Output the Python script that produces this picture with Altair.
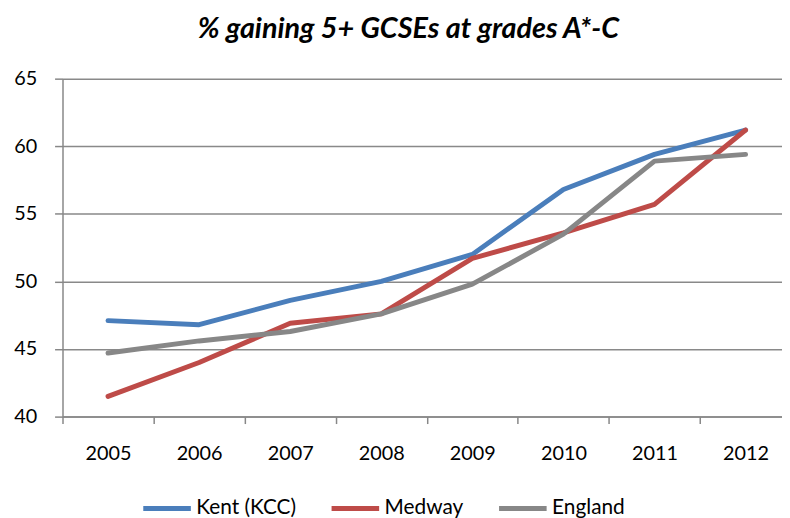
import altair as alt
import pandas as pd

years = [2005, 2006, 2007, 2008, 2009, 2010, 2011, 2012]
series_names = ["Kent (KCC)", "Medway", "England"]
kent = [47.1, 46.8, 48.6, 50.0, 52.0, 56.8, 59.4, 61.2]
medway = [41.5, 44.0, 46.9, 47.6, 51.7, 53.6, 55.7, 61.2]
england = [44.7, 45.6, 46.3, 47.6, 49.8, 53.5, 58.9, 59.4]
colors = ["#4A7EBB", "#BE4B48", "#878787"]

rows = []
for name, vals in zip(series_names, [kent, medway, england]):
    for y, v in zip(years, vals):
        rows.append({"year": y, "value": v, "series": name})
df = pd.DataFrame(rows)

FONT = "Lato"

chart = alt.Chart(df).mark_line(strokeWidth=5, strokeCap="round", strokeJoin="round").encode(
    x=alt.X("year:Q",
            scale=alt.Scale(domain=[2004.5, 2012.4], nice=False, zero=False),
            axis=alt.Axis(values=years, format="d", title=None, grid=False,
                          tickOffset=-46, labelOffset=46, tickSize=7,
                          labelPadding=20, labelFontSize=20, labelFont=FONT,
                          labelColor="black", domainColor="#878787", tickColor="#878787",
                          domainWidth=1.5, tickWidth=1.5)),
    y=alt.Y("value:Q",
            scale=alt.Scale(domain=[40, 65], nice=False, zero=False),
            axis=alt.Axis(values=[40, 45, 50, 55, 60, 65], title=None, grid=True,
                          gridColor="#898989", gridWidth=1.5, tickSize=8,
                          labelPadding=18, labelFontSize=20, labelFont=FONT,
                          labelColor="black", domainColor="#878787", tickColor="#878787",
                          domainWidth=1.5, tickWidth=1.5)),
    color=alt.Color("series:N",
                    scale=alt.Scale(domain=series_names, range=colors),
                    sort=series_names,
                    legend=alt.Legend(title=None, orient="none", legendX=79, legendY=407,
                                      direction="horizontal", symbolType="stroke",
                                      symbolSize=2304, symbolStrokeWidth=5,
                                      labelFontSize=21, labelFont=FONT, labelColor="black",
                                      columnPadding=25, labelOffset=3)),
).properties(
    width=726,
    height=341,
    title=alt.TitleParams("% gaining 5+ GCSEs at grades A*-C", fontSize=29,
                          fontWeight="bold", fontStyle="italic", font=FONT,
                          color="black", anchor="middle", dx=-14, offset=25),
    autosize=alt.AutoSizeParams(type="none"),
    padding={"left": 55, "top": 69, "right": 0, "bottom": 100},
).configure_view(stroke=None)

chart.save("out.html", embed_options={"renderer": "svg", "actions": False})
